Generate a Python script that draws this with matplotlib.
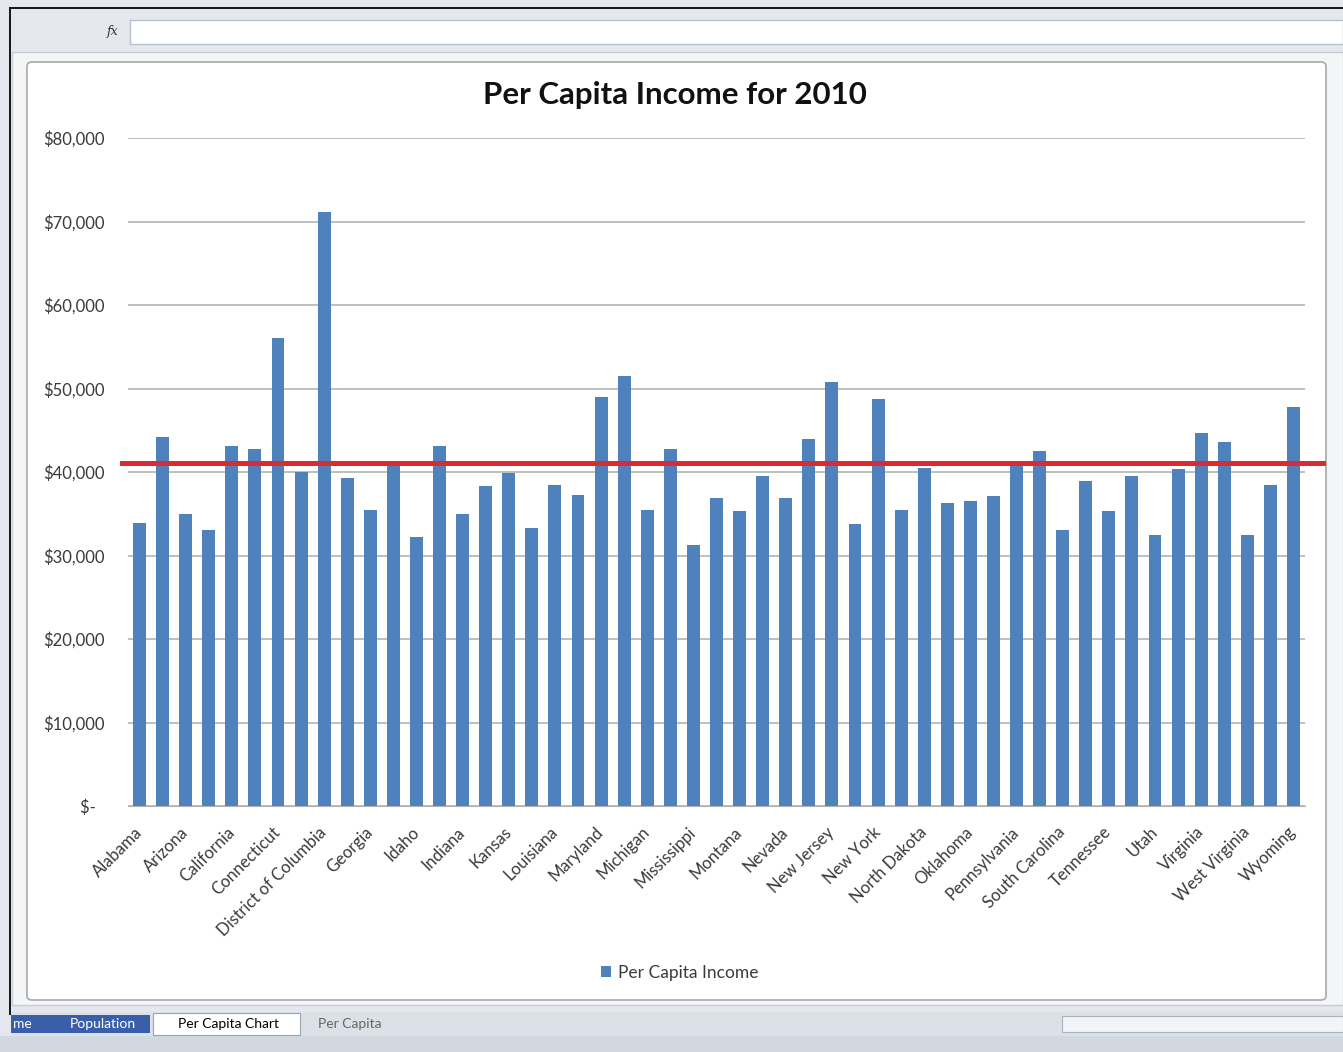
import matplotlib.pyplot as plt
from matplotlib.patches import Rectangle, FancyBboxPatch

# Per capita income 2010, states + DC in alphabetical order
states = ["Alabama", "Alaska", "Arizona", "Arkansas", "California", "Colorado",
          "Connecticut", "Delaware", "District of Columbia", "Florida", "Georgia",
          "Hawaii", "Idaho", "Illinois", "Indiana", "Iowa", "Kansas", "Kentucky",
          "Louisiana", "Maine", "Maryland", "Massachusetts", "Michigan", "Minnesota",
          "Mississippi", "Missouri", "Montana", "Nebraska", "Nevada", "New Hampshire",
          "New Jersey", "New Mexico", "New York", "North Carolina", "North Dakota",
          "Ohio", "Oklahoma", "Oregon", "Pennsylvania", "Rhode Island",
          "South Carolina", "South Dakota", "Tennessee", "Texas", "Utah", "Vermont",
          "Virginia", "Washington", "West Virginia", "Wisconsin", "Wyoming"]
income = [33900, 44200, 35000, 33100, 43100, 42800,
          56100, 40000, 71100, 39300, 35400,
          41000, 32200, 43100, 35000, 38300, 39900, 33300,
          38500, 37200, 49000, 51500, 35500, 42800,
          31200, 36900, 35300, 39500, 36900, 44000,
          50800, 33800, 48800, 35500, 40500,
          36300, 36500, 37100, 41100, 42500,
          33100, 38900, 35300, 39500, 32500, 40300,
          44700, 43600, 32500, 38400, 47800]
avg_income = 41100
y_ticks = [0, 10000, 20000, 30000, 40000, 50000, 60000, 70000, 80000]
y_labels = ["$-  ", "$10,000", "$20,000", "$30,000", "$40,000",
            "$50,000", "$60,000", "$70,000", "$80,000"]
tabs = ["me", "Population", "Per Capita Chart", "Per Capita"]

plt.rcParams['font.family'] = ['Lato', 'DejaVu Sans']

W, H = 1343, 1052
fig = plt.figure(figsize=(W / 100, H / 100), dpi=100)


def box(x0, y0, x1, y1, **kw):
    # rectangle in pixel coords (top-left origin)
    r = Rectangle((x0 / W, 1 - y1 / H), (x1 - x0) / W, (y1 - y0) / H,
                  transform=fig.transFigure, **kw)
    fig.patches.append(r)
    return r


# window chrome
box(0, 0, W, H, facecolor='#E4E8EE', edgecolor='none', zorder=0)
box(10, 7, W, 9, facecolor='#1A1A1A', edgecolor='none', zorder=1)
box(9, 7, 11, 1015, facecolor='#1A1A1A', edgecolor='none', zorder=1)
box(130, 20, W, 44, facecolor='white', edgecolor='#B8C0CC', lw=1, zorder=1)
fig.text(113 / W, 1 - 32 / H, "fx", style='italic', family='DejaVu Serif',
         fontsize=9, ha='center', va='center', color='#333333')
box(12, 52, W, 1005, facecolor='#F4F5F7', edgecolor='#C8CDD4', lw=1, zorder=1)
frame = FancyBboxPatch((27 / W, 1 - 1000 / H), (1326 - 27) / W, (1000 - 62) / H,
                       boxstyle="round,pad=0,rounding_size=0.004",
                       transform=fig.transFigure, facecolor='white',
                       edgecolor='#A9A9A9', lw=1.2, zorder=1)
fig.patches.append(frame)

# sheet tabs + status bar
box(11, 1012, W, 1036, facecolor='#DCE1E8', edgecolor='none', zorder=1)
box(11, 1015, 150, 1033, facecolor='#3B5EA8', edgecolor='none', zorder=2)
box(153, 1013, 300, 1035, facecolor='white', edgecolor='#9AA3AF', lw=0.8, zorder=2)
box(1062, 1016, W, 1032, facecolor='#F2F4F7', edgecolor='#A9B1BC', lw=0.8, zorder=2)
box(0, 1036, W, H, facecolor='#D2D8E0', edgecolor='none', zorder=1)
tab_x = [22, 103, 228, 350]
tab_style = [('white', 'normal'), ('white', 'normal'), ('black', 'normal'), ('#666666', 'normal')]
for t, x, (c, fw) in zip(tabs, tab_x, tab_style):
    fig.text(x / W, 1 - 1024 / H, t, ha='center', va='center', fontsize=10,
             color=c, fontweight=fw, zorder=3)

# chart
ax = fig.add_axes([128 / W, 1 - 806 / H, (1305 - 128) / W, (806 - 138) / H])
ax.set_zorder(2)
ax.patch.set_alpha(0)
xs = list(range(len(states)))
bars = ax.bar(xs, income, width=0.56, color='#4F81BD', zorder=2,
              label="Per Capita Income")
ax.axhline(avg_income, xmin=-0.005, xmax=1.015, color='#D82B33', lw=3.6,
           clip_on=False, zorder=3)

ax.set_xlim(-0.5, len(states) - 0.5)
ax.set_ylim(0, 80000)
ax.set_yticks(y_ticks)
ax.set_yticklabels(y_labels)
ax.set_xticks(xs[::2])
ax.set_xticklabels(states[::2], rotation=45, ha='right', va='center',
                   rotation_mode='anchor')
ax.tick_params(axis='y', length=0, pad=17, labelsize=12, labelcolor='#3A3A3A')
ax.tick_params(axis='x', length=0, pad=17, labelsize=12, labelcolor='#3A3A3A')
ax.yaxis.grid(True, color='#ADADAD', lw=1.1)
ax.set_axisbelow(True)
for s in ['top', 'right', 'left']:
    ax.spines[s].set_visible(False)
ax.spines['bottom'].set_color('#B0B0B0')

fig.text(675 / W, 1 - 95 / H, "Per Capita Income for 2010", ha='center',
         va='center', fontsize=22.5, fontweight='bold', color='#111111')
fig.legend(handles=[bars], loc='center', bbox_to_anchor=(680 / W, 1 - 973 / H),
           frameon=False, fontsize=12.5, handlelength=0.6, handleheight=0.6,
           handletextpad=0.4, labelcolor='#3A3A3A')

fig.savefig("out.png", dpi=100)
